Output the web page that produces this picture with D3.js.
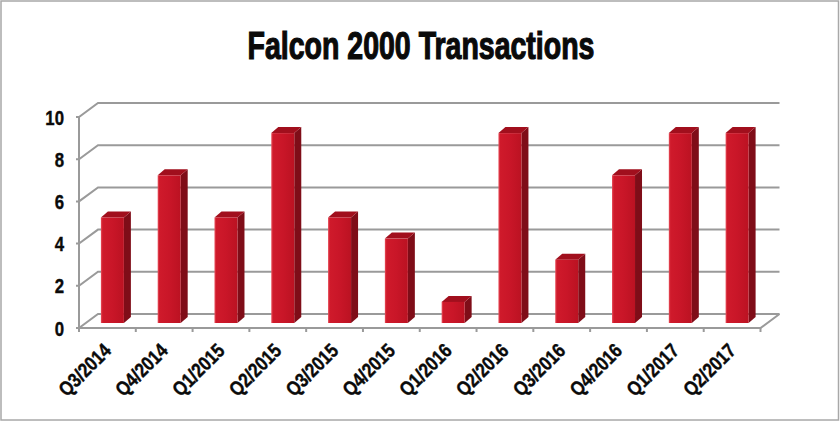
<!DOCTYPE html>
<html><head><meta charset="utf-8">
<script src="https://cdn.jsdelivr.net/npm/d3@7"></script>
<style>html,body{margin:0;padding:0;background:#fff}svg{display:block}
text{font-family:"Liberation Sans",sans-serif;font-weight:700;fill:#0a0a0a;stroke:#0a0a0a;stroke-width:.4px}</style>
</head><body><svg id="c" width="840" height="422"></svg>
<script>
const categories=["Q3/2014","Q4/2014","Q1/2015","Q2/2015","Q3/2015","Q4/2015","Q1/2016","Q2/2016","Q3/2016","Q4/2016","Q1/2017","Q2/2017"];
const transactions=[5,7,5,9,5,4,1,9,3,7,9,9];
const yTicks=[0,2,4,6,8,10];
const chartTitle="Falcon 2000 Transactions";

const svg=d3.select("#c");
const x=d3.scaleBand().domain(categories).range([79,760.5]);
const y=d3.scaleLinear().domain([0,10]).range([328,117]);
const wall={dx:19,dy:-14}, bar={w:23,dx:7,dy:-6,ox:5,oy:-5};
const grid="#9a9a9a";

const defs=svg.append("defs");
const g=defs.append("linearGradient").attr("id","front");
[[0,"#e8505c"],[.08,"#cf1a2b"],[.5,"#c91628"],[1,"#bb1222"]].forEach(s=>g.append("stop").attr("offset",s[0]).attr("stop-color",s[1]));

svg.append("rect").attr("x",1).attr("y",1).attr("width",837.5).attr("height",419).attr("fill","#fff").attr("stroke","#a8a8a8").attr("stroke-width",1.5);

svg.append("text").attr("transform","translate(421,59) scale(.75,1)").attr("text-anchor","middle").style("font-size","38px").style("stroke-width","1.2px").text(chartTitle);

const line=d3.line();
const L=x.range()[0],R=x.range()[1];
const lines=svg.append("g").attr("fill","none").attr("stroke",grid).attr("stroke-width",2);
yTicks.forEach(t=>{
  lines.append("path").attr("d",line([[L-3,y(t)],[L,y(t)],[L+wall.dx,y(t)+wall.dy],[R+wall.dx,y(t)+wall.dy]]));
});
lines.append("path").attr("d",line([[L,y(10)],[L,y(0)],[R,y(0)],[R+wall.dx,y(0)+wall.dy]]));
categories.concat([null]).forEach((c,i)=>{
  const px=c?x(c):R;
  lines.append("path").attr("d",line([[px,y(0)],[px,y(0)+4]]));
});

const bars=svg.append("g").selectAll("g").data(categories.map((c,i)=>({c,v:transactions[i]}))).join("g")
  .attr("transform",d=>`translate(${x(d.c)+x.bandwidth()/2+bar.ox-bar.w/2},${bar.oy})`);
bars.append("path").attr("fill","#7f0d18").attr("d",d=>line([[bar.w,y(d.v)],[bar.w+bar.dx,y(d.v)+bar.dy],[bar.w+bar.dx,y(0)+bar.dy],[bar.w,y(0)]])+"Z");
bars.append("path").attr("fill","#a10f1d").attr("d",d=>line([[0,y(d.v)],[bar.dx,y(d.v)+bar.dy],[bar.w+bar.dx,y(d.v)+bar.dy],[bar.w,y(d.v)]])+"Z");
bars.append("rect").attr("fill","url(#front)").attr("x",0).attr("width",bar.w).attr("y",d=>y(d.v)).attr("height",d=>y(0)-y(d.v));

svg.append("g").selectAll("text").data(yTicks).join("text")
  .attr("transform",d=>`translate(64,${y(d)+7.5}) scale(.8,1)`).attr("text-anchor","end").style("font-size","21px").text(d=>d);

svg.append("g").selectAll("text").data(categories).join("text")
  .attr("transform",c=>`translate(${x(c)+x.bandwidth()/2},${y(0)+19}) rotate(-45) scale(.84,1)`)
  .attr("text-anchor","end").attr("dy","0.35em").style("font-size","20px").text(c=>c);
</script></body></html>
